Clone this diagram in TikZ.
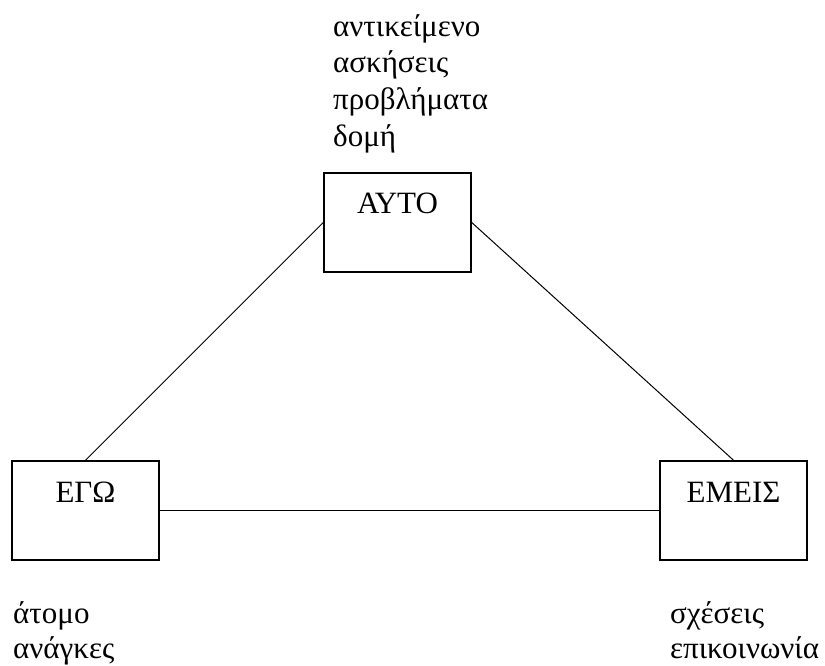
\documentclass[tikz,border=0pt]{standalone}
\usepackage{fontspec}
\setmainfont{Liberation Serif}
\begin{document}
\begin{tikzpicture}[x=1pt,y=-1pt,
  box/.style={draw,line width=1.5pt,inner sep=0pt,text width=147pt,align=center,
    text height=41pt,text depth=58pt,font=\fontsize{31}{36}\selectfont},
  conn/.style={line width=1pt},
  lbl/.style={inner sep=0pt,anchor=base west,align=left,font=\fontsize{31}{37}\selectfont}]
\useasboundingbox (0,0) rectangle (825,666);
\node[box] (ayto) at (397.5,222.5) {ΑΥΤΟ};
\node[box] (ego) at (85.5,510.5) {ΕΓΩ};
\node[box] (emeis) at (733.5,510.5) {ΕΜΕΙΣ};
\draw[conn] (ayto.west) -- (ego.north);
\draw[conn] (ayto.east) -- (emeis.north);
\draw[conn] (ego.east) -- (emeis.west);
\node[lbl] (top) at (333,147) {αντικείμενο\\ασκήσεις\\προβλήματα\\δομή};
\node[lbl,font=\fontsize{31}{35}\selectfont] (left) at (13,658) {άτομο\\ανάγκες};
\node[lbl,font=\fontsize{31}{35}\selectfont] (right) at (670,658) {σχέσεις\\επικοινωνία};
\end{tikzpicture}
\end{document}
